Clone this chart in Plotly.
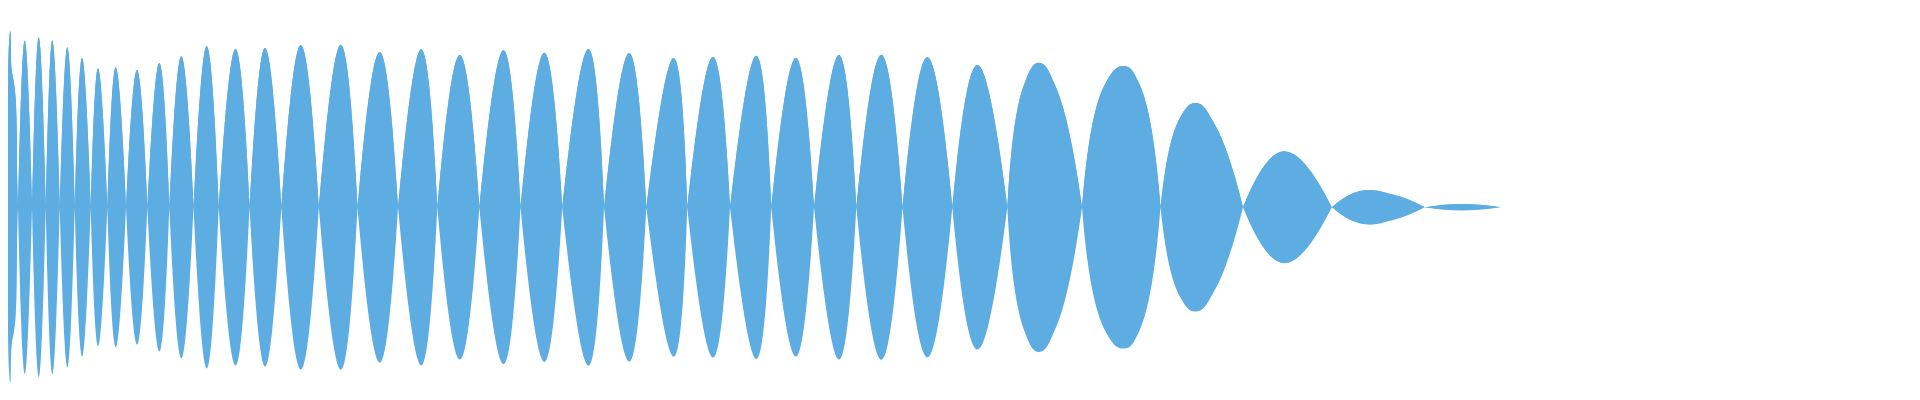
import plotly.graph_objects as go

# envelope of the waveform: x position and amplitude (0 = zero crossing)
env_x = [
    0, 1, 2.3, 3.7, 5.7, 7.7, 9.3, 10,
    16.7, 24, 30.7, 37.7, 44.3, 51.7, 59.3, 66.7, 74, 82.7, 90, 99.3,
    107.7, 118, 129, 139.3, 151.3, 161.3, 173.3, 185.5, 198.7, 210.7,
    227.5, 241.5, 257, 273.3, 292.8, 310.8, 332.8, 349.5, 371.7, 390,
    413.2, 429.3, 451.8, 471.3, 495.5, 512.5, 536.3, 554.2, 580.4, 596,
    621.2, 638.3, 665.7, 679.2, 705, 722, 748.3, 763.2, 787.8, 806,
    831, 848.3, 873.3, 894.5, 919.3, 944.3, 969.3, 999.3,
    1016, 1031, 1048, 1074,
    1096.7, 1116, 1131.7, 1152.5,
    1171.7, 1188, 1206.7, 1235,
    1276, 1323.8,
    1352, 1386, 1416.7,
    1453, 1492.7,
]
env_amp = [
    113, 164, 176, 138, 126, 108, 23, 0,
    166.7, 0, 170, 0, 167, 0, 160, 0, 149.3, 0, 139, 0,
    140, 0, 137.3, 0, 144.2, 0, 151, 0, 161.2, 0,
    158.3, 0, 159.3, 0, 162.3, 0, 162.5, 0, 155.3, 0,
    158.1, 0, 152.3, 0, 157, 0, 154.6, 0, 158.3, 0,
    154.3, 0, 149.3, 0, 150.3, 0, 151.6, 0, 149.3, 0,
    152.3, 0, 152.5, 0, 150, 0, 142.3, 0,
    122.6, 144.6, 120, 0,
    122.6, 141.3, 122.6, 0,
    89, 104.3, 83, 0,
    56, 0,
    16.2, 12.5, 0,
    3.3, 0,
]

# split into one lobe per segment so each lobe meets zero with a point
xs, ys = [], []
for i, (x, a) in enumerate(zip(env_x, env_amp)):
    xs.append(x)
    ys.append(a)
    if a == 0 and i < len(env_x) - 1:
        xs += [None, x]
        ys += [None, 0]

color = "#5DADE2"

fig = go.Figure()
fig.add_trace(
    go.Scatter(
        x=xs,
        y=ys,
        mode="lines",
        line=dict(shape="spline", smoothing=1.3, width=0, color=color),
        fill="tozeroy",
        fillcolor=color,
        hoverinfo="skip",
    )
)
# mirrored half, filled up to the upper half so there is no seam at zero
fig.add_trace(
    go.Scatter(
        x=xs,
        y=[None if v is None else -v for v in ys],
        mode="lines",
        line=dict(shape="spline", smoothing=1.3, width=0, color=color),
        fill="tonexty",
        fillcolor=color,
        hoverinfo="skip",
    )
)

fig.update_layout(
    width=1920,
    height=400,
    margin=dict(l=0, r=0, t=0, b=0),
    plot_bgcolor="white",
    paper_bgcolor="white",
    showlegend=False,
)
fig.update_xaxes(range=[0, 1920], visible=False)
fig.update_yaxes(range=[-200.7, 199.3], visible=False)

fig.write_html("out.html")
